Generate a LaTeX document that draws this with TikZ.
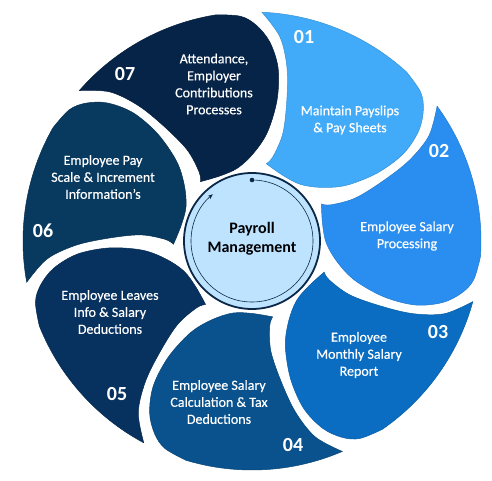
\documentclass[tikz,border=0pt]{standalone}
\usepackage{fontspec}
\setmainfont{Carlito}
\newfontfamily\petalfont{Carlito}[FakeBold=0.4]
\usetikzlibrary{arrows.meta}
\definecolor{p1}{HTML}{41ABF9}
\definecolor{p2}{HTML}{2A8EF1}
\definecolor{p3}{HTML}{0A6DC2}
\definecolor{p4}{HTML}{09528D}
\definecolor{p5}{HTML}{07315F}
\definecolor{p6}{HTML}{08395F}
\definecolor{p7}{HTML}{062447}
\definecolor{cfill}{HTML}{BEE3FF}
\definecolor{cdark}{HTML}{0A2747}
\tikzset{
  petaltext/.style={text=white, align=center, font=\petalfont\fontsize{14}{17}\selectfont},
  petalnum/.style={text=white, font=\fontsize{20}{24}\selectfont\bfseries},
}
\begin{document}
\begin{tikzpicture}[x=1pt,y=1pt]
\useasboundingbox (-252,-239) rectangle (240,241);
\foreach \k in {1,...,7}{
  \pgfmathsetmacro\a{87.5-51.4286*(\k-1)}
  \fill[p\k, draw=p\k!85!black, line width=0.5pt]
    ({\a}:229) arc[start angle=\a, end angle=\a-40, radius=229pt]
    -- plot[smooth, tension=0.55] coordinates {({\a-40}:229) ({\a-46}:225) ({\a-50}:216) ({\a-54}:200) ({\a-57.5}:175) ({\a-59}:143) ({\a-57}:110) ({\a-50}:88) ({\a-38}:74.5) ({\a-23}:72.5) ({\a-8}:78.6)}
    -- plot[smooth, tension=0.55] coordinates {({\a-8}:78.6) ({\a-11.5}:87) ({\a-13.5}:112) ({\a-11.4}:145) ({\a-8.9}:177) ({\a-5.3}:206) ({\a}:229)}
    -- cycle;
}
% centre
\node[circle, fill=cfill, draw=cdark, line width=1.8pt, minimum size=136pt, inner sep=0pt] (hub) at (0,0) {};
\draw[cdark, line width=0.6pt, -{Stealth[length=5pt,width=4pt]}] (90:61) arc[start angle=90, end angle=-230, radius=61pt];
\fill[cdark] (90:61) circle (2.3pt);
\node[font=\fontsize{16}{19}\selectfont\bfseries, align=center, text=black] (title) at (0,2) {Payroll\\Management};
% numbers
\node[petalnum] (n1) at (52,204) {01};
\node[petalnum] (n2) at (187,90) {02};
\node[petalnum] (n3) at (186,-91) {03};
\node[petalnum] (n4) at (41,-204) {04};
\node[petalnum] (n5) at (-135,-153) {05};
\node[petalnum] (n6) at (-209,10) {06};
\node[petalnum] (n7) at (-127,167) {07};
% texts
\node[petaltext] (t1) at (98,121) {Maintain Payslips\\\& Pay Sheets};
\node[petaltext] (t2) at (155,5) {Employee Salary\\Processing};
\node[petaltext] (t3) at (107,-114) {Employee\\Monthly Salary\\Report};
\node[petaltext] (t4) at (-33,-161) {Employee Salary\\Calculation \& Tax\\Deductions};
\node[petaltext] (t5) at (-142,-71) {Employee Leaves\\Info \& Salary\\Deductions};
\node[petaltext] (t6) at (-149,64) {Employee Pay\\Scale \& Increment\\Information’s};
\node[petaltext] (t7) at (-38,157) {Attendance,\\Employer\\Contributions\\Processes};
\end{tikzpicture}
\end{document}
